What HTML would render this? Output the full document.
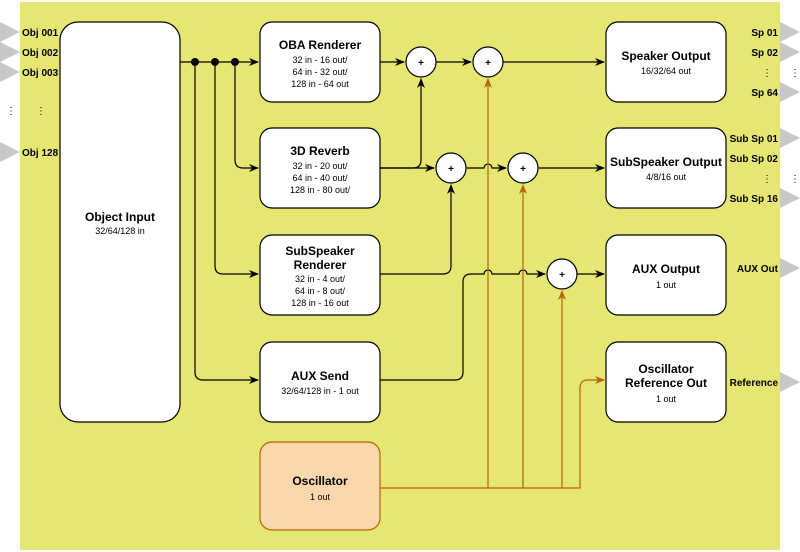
<!DOCTYPE html>
<html><head><style>body{margin:0;background:#fff}svg{display:block;font-family:"Liberation Sans",sans-serif}</style></head><body>
<svg width="800" height="552" viewBox="0 0 800 552">
<defs>
<marker id="a" markerWidth="10" markerHeight="10" refX="9" refY="5" orient="auto" markerUnits="userSpaceOnUse"><path d="M0,1 L10,5 L0,9 L3,5z" fill="#000"/></marker>
<marker id="o" markerWidth="10" markerHeight="10" refX="9" refY="5" orient="auto" markerUnits="userSpaceOnUse"><path d="M0,1 L10,5 L0,9 L3,5z" fill="#b46504"/></marker>
</defs>
<rect x="20" y="2" width="760" height="548" fill="#e6e673"/>
<g fill="#c8c8c8">
<path d="M0,22 L20,32 L0,42z"/><path d="M0,42 L20,52 L0,62z"/><path d="M0,62 L20,72 L0,82z"/><path d="M0,142 L20,152 L0,162z"/>
<path d="M780,22 L800,32 L780,42z"/><path d="M780,42 L800,52 L780,62z"/><path d="M780,82 L800,92 L780,102z"/>
<path d="M780,128 L800,138 L780,148z"/><path d="M780,188 L800,198 L780,208z"/><path d="M780,258 L800,268 L780,278z"/><path d="M780,372 L800,382 L780,392z"/>
</g>
<g font-size="10" font-weight="bold" fill="#000">
<text x="22" y="36">Obj 001</text><text x="22" y="56">Obj 002</text><text x="22" y="76">Obj 003</text><text x="22" y="156">Obj 128</text>
<text x="6" y="114" font-weight="normal">⋮</text><text x="36" y="114" font-weight="normal">⋮</text>
<g text-anchor="end">
<text x="778" y="36">Sp 01</text><text x="778" y="56">Sp 02</text><text x="778" y="96">Sp 64</text>
<text x="778" y="142">Sub Sp 01</text><text x="778" y="162">Sub Sp 02</text><text x="778" y="202">Sub Sp 16</text>
<text x="778" y="272">AUX Out</text><text x="778" y="386">Reference</text>
<text x="772" y="76" font-weight="normal">⋮</text><text x="772" y="182" font-weight="normal">⋮</text>
</g>
<text x="790" y="76" font-weight="normal">⋮</text><text x="790" y="182" font-weight="normal">⋮</text>
</g>
<g fill="none" stroke="#000" stroke-width="1.2">
<path d="M180,62 H258" marker-end="url(#a)"/>
<path d="M235,62 V160 q0,8 8,8 H258" marker-end="url(#a)"/>
<path d="M215,62 V266 q0,8 8,8 H258" marker-end="url(#a)"/>
<path d="M195,62 V372 q0,8 8,8 H258" marker-end="url(#a)"/>
<path d="M380,62 H404" marker-end="url(#a)"/>
<path d="M436,62 H471" marker-end="url(#a)"/>
<path d="M503,62 H604" marker-end="url(#a)"/>
<path d="M380,168 H434" marker-end="url(#a)"/>
<path d="M380,168 H413 q8,0 8,-8 V79" marker-end="url(#a)"/>
<path d="M466,168 H484 a4,4 0 0 1 8,0 H506" marker-end="url(#a)"/>
<path d="M538,168 H604" marker-end="url(#a)"/>
<path d="M380,274 H443 q8,0 8,-8 V185" marker-end="url(#a)"/>
<path d="M380,380 H455 q8,0 8,-8 V282 q0,-8 8,-8 H484 a4,4 0 0 1 8,0 H519 a4,4 0 0 1 8,0 H545" marker-end="url(#a)"/>
<path d="M577,274 H604" marker-end="url(#a)"/>
</g>
<g fill="#000"><circle cx="195" cy="62" r="4"/><circle cx="215" cy="62" r="4"/><circle cx="235" cy="62" r="4"/></g>
<g fill="none" stroke="#b46504" stroke-width="1.2">
<path d="M380,488 H580 V388 q0,-8 8,-8 H604" marker-end="url(#o)"/>
<path d="M488,488 V79" marker-end="url(#o)"/>
<path d="M523,488 V185" marker-end="url(#o)"/>
<path d="M562,488 V291" marker-end="url(#o)"/>
</g>
<g stroke="#000" stroke-width="1.2" fill="#fff">
<rect x="60" y="22" width="120" height="400" rx="18"/>
<rect x="260" y="22" width="120" height="80" rx="12"/>
<rect x="260" y="128" width="120" height="80" rx="12"/>
<rect x="260" y="235" width="120" height="80" rx="12"/>
<rect x="260" y="342" width="120" height="80" rx="12"/>
<rect x="606" y="22" width="120" height="80" rx="12"/>
<rect x="606" y="128" width="120" height="80" rx="12"/>
<rect x="606" y="235" width="120" height="80" rx="12"/>
<rect x="606" y="342" width="120" height="80" rx="12"/>
<circle cx="421" cy="62" r="15"/><circle cx="488" cy="62" r="15"/><circle cx="451" cy="168" r="15"/><circle cx="523" cy="168" r="15"/><circle cx="562" cy="274" r="15"/>
</g>
<rect x="260" y="442" width="120" height="88" rx="12" fill="#fad7ac" stroke="#b46504" stroke-width="1.2"/>
<g text-anchor="middle" font-size="10" font-weight="bold"><text x="421" y="66">+</text><text x="488" y="66">+</text><text x="451" y="172">+</text><text x="523" y="172">+</text><text x="562" y="278">+</text></g>
<g text-anchor="middle" font-size="9">
<text x="120" y="221" font-size="12" font-weight="bold">Object Input</text><text x="120" y="234">32/64/128 in</text>
<text x="320" y="49" font-size="12" font-weight="bold">OBA Renderer</text><text x="320" y="63">32 in - 16 out/</text><text x="320" y="75">64 in - 32 out/</text><text x="320" y="87">128 in - 64 out</text>
<text x="320" y="155" font-size="12" font-weight="bold">3D Reverb</text><text x="320" y="169">32 in - 20 out/</text><text x="320" y="181">64 in - 40 out/</text><text x="320" y="193">128 in - 80 out/</text>
<text x="320" y="255" font-size="12" font-weight="bold">SubSpeaker</text><text x="320" y="269" font-size="12" font-weight="bold">Renderer</text><text x="320" y="282">32 in - 4 out/</text><text x="320" y="294">64 in - 8 out/</text><text x="320" y="306">128 in - 16 out</text>
<text x="320" y="380" font-size="12" font-weight="bold">AUX Send</text><text x="320" y="394">32/64/128 in - 1 out</text>
<text x="320" y="485" font-size="12" font-weight="bold">Oscillator</text><text x="320" y="500">1 out</text>
<text x="666" y="60" font-size="12" font-weight="bold">Speaker Output</text><text x="666" y="74">16/32/64 out</text>
<text x="666" y="166" font-size="12" font-weight="bold">SubSpeaker Output</text><text x="666" y="180">4/8/16 out</text>
<text x="666" y="273" font-size="12" font-weight="bold">AUX Output</text><text x="666" y="288">1 out</text>
<text x="666" y="373" font-size="12" font-weight="bold">Oscillator</text><text x="666" y="387" font-size="12" font-weight="bold">Reference Out</text><text x="666" y="402">1 out</text>
</g>
</svg>
</body></html>
